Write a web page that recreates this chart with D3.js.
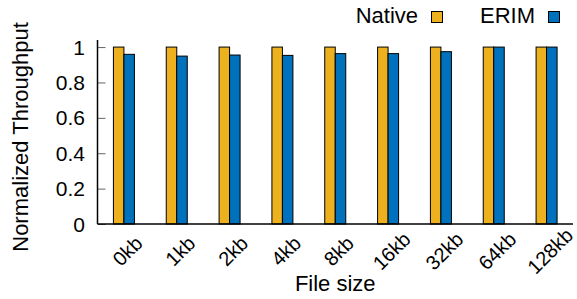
<!DOCTYPE html>
<html>
<head>
<meta charset="utf-8">
<script src="https://cdn.jsdelivr.net/npm/d3@7"></script>
<style>
  body { margin: 0; background: #fff; }
  text { font-family: "Liberation Sans", Arial, sans-serif; fill: #000; }
</style>
</head>
<body>
<svg id="chart" width="577" height="299"></svg>
<script>
// data
const fileSizes = ['0kb','1kb','2kb','4kb','8kb','16kb','32kb','64kb','128kb'];
const nativeVals = [1, 1, 1, 1, 1, 1, 1, 1, 1];
const erimVals = [0.959, 0.949, 0.955, 0.953, 0.963, 0.963, 0.974, 1, 1];
const yTicks = [0, 0.2, 0.4, 0.6, 0.8, 1];
const seriesNames = ['Native', 'ERIM'];
const seriesColors = ['#EDB120', '#0072BD'];

const plotLeft = 97.5, plotRight = 573, plotTop = 40, plotBottom = 224;

const svg = d3.select('#chart');

const x = d3.scaleBand().domain(fileSizes).range([plotLeft, plotRight]);
const y = d3.scaleLinear().domain([0, 1.04]).range([plotBottom, plotTop]);
const barW = 10.5;

// bars
const series = [nativeVals, erimVals];
series.forEach((vals, s) => {
    svg.append('g').selectAll('rect')
        .data(vals)
        .enter()
        .append('rect')
        .attr('x', (d, i) => x(fileSizes[i]) + x.bandwidth() / 2 - barW + s * barW)
        .attr('y', d => y(d))
        .attr('width', barW)
        .attr('height', d => y(0) - y(d))
        .attr('fill', seriesColors[s])
        .attr('stroke', '#000')
        .attr('stroke-width', 1);
});

// y axis: ticks point inward, like gnuplot
const yAxis = svg.append('g')
    .attr('transform', `translate(${plotLeft},0)`)
    .call(d3.axisRight(y).tickValues(yTicks).tickSize(8).tickFormat(''));
yAxis.select('.domain').remove();
yAxis.selectAll('line').attr('stroke', '#666').attr('stroke-width', 1);

svg.append('g').selectAll('text')
    .data(yTicks)
    .enter()
    .append('text')
    .attr('x', 85)
    .attr('y', d => y(d))
    .attr('dy', '0.36em')
    .attr('text-anchor', 'end')
    .attr('font-size', 21)
    .text(d => d3.format('~g')(d));

// border lines (left + bottom)
svg.append('line')
    .attr('x1', plotLeft).attr('x2', plotLeft)
    .attr('y1', plotTop).attr('y2', plotBottom)
    .attr('stroke', '#000').attr('stroke-width', 1.5);
svg.append('line')
    .attr('x1', plotLeft).attr('x2', plotRight)
    .attr('y1', plotBottom).attr('y2', plotBottom)
    .attr('stroke', '#000').attr('stroke-width', 1.5);

// x tick labels, rotated
svg.append('g').selectAll('text')
    .data(fileSizes)
    .enter()
    .append('text')
    .attr('transform', d => `translate(${x(d) + x.bandwidth() / 2 + 3.5},251) rotate(-45)`)
    .attr('text-anchor', 'middle')
    .attr('dy', '0.35em')
    .attr('font-size', 20)
    .text(d => d);

// axis titles
svg.append('text')
    .attr('x', (plotLeft + plotRight) / 2)
    .attr('y', 291)
    .attr('text-anchor', 'middle')
    .attr('font-size', 22)
    .text('File size');

svg.append('text')
    .attr('transform', `translate(28,${(plotTop + plotBottom) / 2 + 5}) rotate(-90)`)
    .attr('text-anchor', 'middle')
    .attr('font-size', 22)
    .text('Normalized Throughput');

// legend
const legendX = [418, 535];
seriesNames.forEach((name, s) => {
    svg.append('text')
        .attr('x', legendX[s])
        .attr('y', 23)
        .attr('text-anchor', 'end')
        .attr('font-size', 22)
        .text(name);
    svg.append('rect')
        .attr('x', legendX[s] + 13.5)
        .attr('y', 11.5)
        .attr('width', 11)
        .attr('height', 11)
        .attr('fill', seriesColors[s])
        .attr('stroke', '#000')
        .attr('stroke-width', 1);
});
</script>
</body>
</html>
